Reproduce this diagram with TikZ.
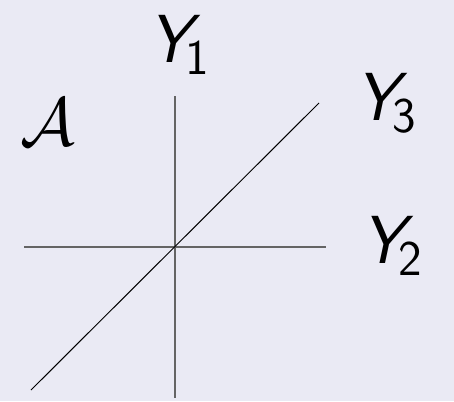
\documentclass[tikz,border=0pt]{standalone}
\definecolor{bgcol}{RGB}{234,234,244}
\definecolor{axcol}{RGB}{100,100,100}
\newcommand{\Ysub}[1]{{\itshape Y}\kern-2.5pt\raisebox{-6pt}{\fontsize{25}{30}\selectfont #1}}
\begin{document}
\begin{tikzpicture}[x=0.5pt,y=-0.5pt,
  axis/.style={draw=axcol,line width=1pt},
  diag/.style={draw=black,line width=0.5pt},
  lbl/.style={inner sep=0pt,anchor=base west,font=\fontsize{34}{40}\selectfont\sffamily}]
\fill[bgcol] (0,0) rectangle (454,401);
\useasboundingbox (0,0) rectangle (454,401);
\coordinate (vt) at (175,96);
\coordinate (vb) at (175,398);
\coordinate (hl) at (24,247);
\coordinate (hr) at (326,247);
\coordinate (dl) at (31,390);
\coordinate (dr) at (319,103);
\draw[axis] (vt) -- (vb);
\draw[axis] (hl) -- (hr);
\draw[diag] (dl) -- (dr);
\node[lbl] (y1) at (148,62) {\Ysub{1}};
\node[lbl] (y3) at (355,120) {\Ysub{3}};
\node[lbl] (y2) at (361,263) {\Ysub{2}};
\node[lbl] (a) at (20,145) {\scalebox{1.37}{$\mathcal{A}$}};
\end{tikzpicture}
\end{document}
